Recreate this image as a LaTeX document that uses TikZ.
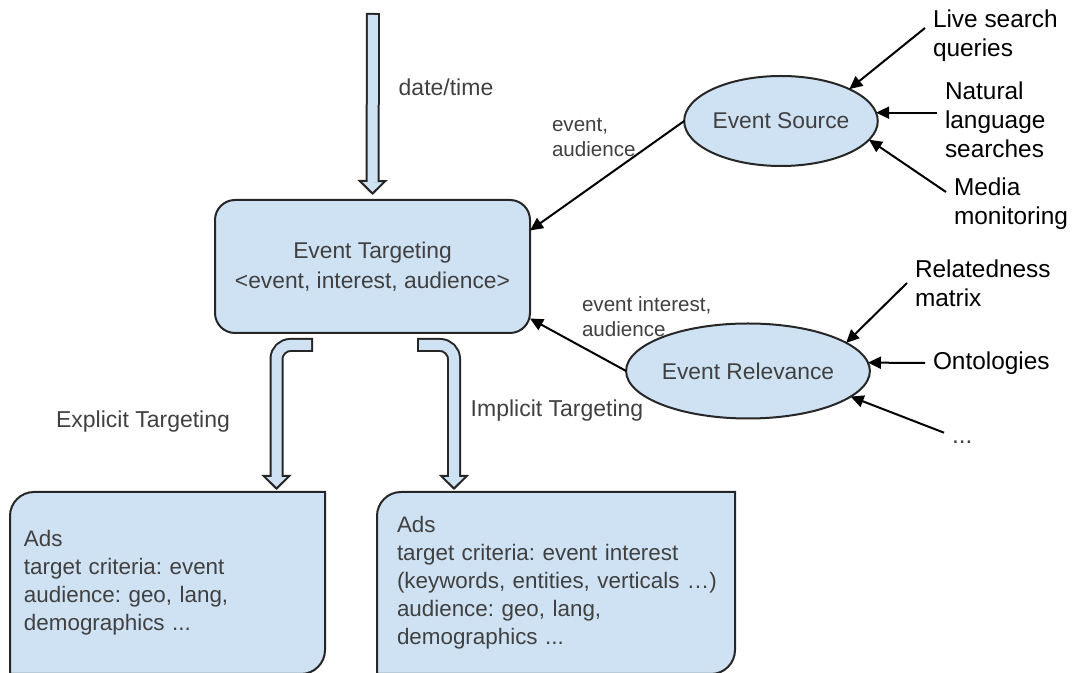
\documentclass[tikz,border=0pt]{standalone}
\usepackage{fontspec}
\setmainfont{Liberation Sans}
\usetikzlibrary{arrows.meta,shapes.geometric,backgrounds,calc}
\frenchspacing

\definecolor{paleblue}{HTML}{CFE2F3}
\definecolor{rimgray}{HTML}{262626}
\definecolor{inkgray}{HTML}{404040}

\tikzset{
  every node/.style={inner sep=0pt, outer sep=0pt},
  hub/.style={draw=rimgray, line width=1pt, fill=paleblue, rounded corners=10pt,
    minimum width=157.5pt, minimum height=66.5pt, align=center, text=inkgray,
    font=\fontsize{11.4}{15}\selectfont},
  source/.style={ellipse, draw=rimgray, line width=1pt, fill=paleblue, text=inkgray,
    font=\fontsize{11.4}{14}\selectfont},
  adbox/.style={text=inkgray, align=left, minimum height=91pt,
    font=\fontsize{11.2}{14}\selectfont},
  adrim/.style={draw=rimgray, line width=1pt, fill=paleblue},
  note/.style={text=inkgray, font=\fontsize{11.5}{14}\selectfont},
  tag/.style={text=inkgray, align=left, font=\fontsize{10.3}{12.5}\selectfont},
  feedtext/.style={align=left, inner sep=4pt, font=\fontsize{12.2}{14.5}\selectfont},
  feed/.style={draw=black, line width=1pt, -{Triangle[length=6.5pt,width=6pt]}},
  fat/.style={draw=rimgray, line width=7pt,
    -{Triangle[length=7.5pt,width=15pt,fill=paleblue,line width=1pt]},
    postaction={draw=paleblue, line width=5pt, -, shorten >=6.5pt, shorten <=1pt}},
}

\begin{document}
\begin{tikzpicture}[x=0.5pt, y=-0.5pt]
\useasboundingbox (0,0) rectangle (1073,673);

% main blocks
\node[hub] (et) at (372.5,266.5) {Event Targeting\\<event, interest, audience>};
\node[source, minimum width=90pt, minimum height=45pt] (es) at (781,121) {Event Source};
\node[source, minimum width=110pt, minimum height=47.5pt] (er) at (748,371) {Event Relevance};

% ads
\node[adbox, text width=143.5pt, inner xsep=7pt] (expl) at (167.5,583)
  {Ads\\target criteria: event\\audience: geo, lang,\\demographics ...};
\node[adbox, text width=159pt, inner xsep=10pt] (impl) at (556,583)
  {Ads\\target criteria: event interest\\\mbox{(keywords, entities, verticals \dots)}\\audience: geo, lang,\\demographics ...};
\begin{scope}[on background layer]
\foreach \b in {expl,impl}
  \draw[adrim] (\b.south west) -- ($(\b.north west)+(0,24)$) arc[start angle=180, end angle=90, radius=12pt]
    -- (\b.north east) -- ($(\b.south east)-(0,24)$) arc[start angle=0, end angle=-90, radius=12pt] -- cycle;
\end{scope}

% hollow arrows
\coordinate (clock) at (373,13);
\coordinate (explsrc) at (313,345);
\coordinate (implsrc) at (417,345);
\draw[fat] (clock) -- ([yshift=2.5pt]et.north);
\draw[fat, rounded corners=7pt] (explsrc) -| ([xshift=54.5pt,yshift=1pt]expl.north);
\draw[fat, rounded corners=7pt] (implsrc) -| ([xshift=-51pt,yshift=1pt]impl.north);

\node[note] (dt) at (446,87) {date/time};
\node[note] (explnote) at (143,422) {Explicit Targeting};
\node[note] (implnote) at (557,411) {Implicit Targeting};

% into the hub
\node[tag, anchor=west] (estag) at (552,137) {event,\\audience};
\node[tag, anchor=west] (ertag) at (582,317) {event interest,\\audience};
\draw[feed] (es.west) -- ([yshift=18pt]et.east);
\draw[feed] (er.west) -- ([yshift=-26pt]et.east);

% inputs
\node[feedtext, anchor=west] (live) at (925,36) {Live search\\queries};
\node[feedtext, anchor=west] (nat) at (937,120) {Natural\\language\\searches};
\node[feedtext, anchor=west] (media) at (946,204) {Media\\monitoring};
\node[feedtext, anchor=west] (rel) at (907,283) {Relatedness\\matrix};
\node[feedtext, anchor=west] (onto) at (925,363) {Ontologies};
\node[feedtext, anchor=west, text=inkgray] (more) at (944,442) {...};
\draw[feed] ([yshift=4pt]live.west) -- (es.25);
\draw[feed] (nat.west |- es.5) -- (es.5);
\draw[feed] ([yshift=6pt]media.west) -- (es.-12);
\draw[feed] (rel.west) -- (er.16);
\draw[feed] (onto.west) -- (er.4);
\draw[feed] (more.north west) -- (er.-14);
\end{tikzpicture}
\end{document}
